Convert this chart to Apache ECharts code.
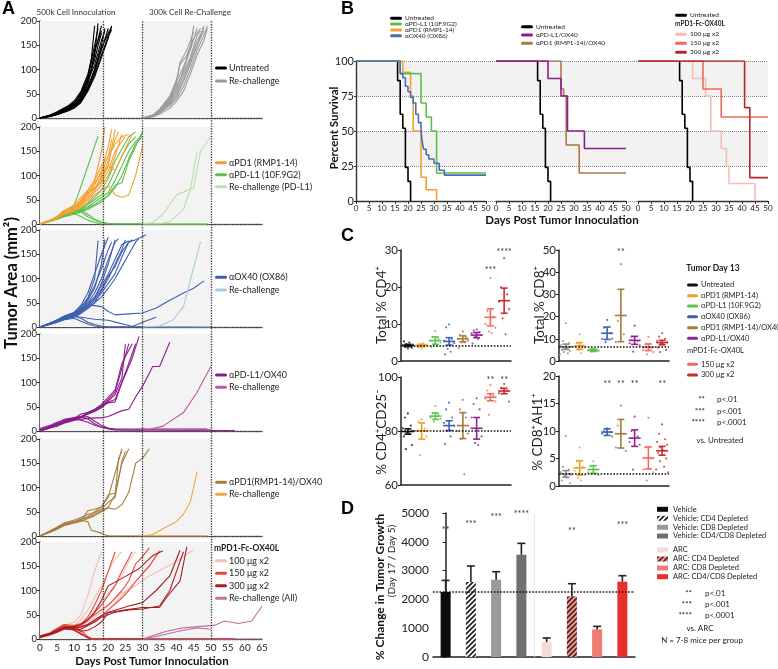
<!DOCTYPE html>
<html><head><meta charset="utf-8">
<script src="https://cdn.jsdelivr.net/npm/echarts/dist/echarts.min.js"></script>
<style>html,body{margin:0;padding:0;background:#fff}#c{width:778px;height:669px}</style>
</head><body><div id="c"></div>
<script>
// ===================== DATA =====================
// Panel A: individual tumor growth curves, [day, tumor area mm²]
const aUntreated = [
 [[0,0],[3,5],[5,10],[8,20],[10,28],[12,45],[14,80],[15,120],[16,190]],
 [[0,0],[3,4],[5,9],[8,18],[10,25],[12,40],[14,70],[16,130],[17,195]],
 [[0,0],[3,6],[5,12],[8,22],[10,32],[12,50],[14,85],[16,140],[18,180]],
 [[0,0],[3,3],[5,8],[8,16],[10,22],[12,35],[14,60],[16,100],[18,150],[19,185]],
 [[0,0],[3,5],[5,11],[8,20],[10,30],[12,48],[14,78],[16,120],[17,150],[18,175]],
 [[0,0],[3,4],[5,9],[8,17],[10,24],[12,38],[14,62],[16,95],[18,140],[20,185]],
 [[0,0],[3,6],[5,13],[8,24],[10,35],[12,55],[14,90],[16,150],[17,185]],
 [[0,0],[3,3],[5,7],[8,14],[10,20],[12,32],[14,55],[16,85],[18,125],[20,165],[21,190]],
 [[0,0],[3,5],[5,10],[8,19],[10,27],[12,42],[14,75],[16,110],[18,160],[19,180]],
 [[0,0],[3,4],[5,9],[8,17],[10,26],[12,40],[14,65],[16,100],[18,145],[20,175],[21,188]],
 [[0,0],[3,5],[5,12],[8,21],[10,30],[12,52],[14,80],[15,100],[16,135],[18,190]],
 [[0,0],[3,4],[5,8],[8,15],[10,23],[12,36],[14,58],[16,90],[18,130],[20,170],[21,182]]
];
const aRechallenge = [
 [[30,0],[33,5],[35,15],[38,35],[40,60],[42,100],[44,140],[46,185]],
 [[30,0],[33,4],[35,12],[38,30],[40,50],[42,80],[44,115],[46,150],[48,190]],
 [[30,0],[33,6],[35,18],[38,45],[40,80],[41,110],[43,130],[45,165],[47,185]],
 [[30,0],[33,3],[35,10],[38,25],[40,40],[42,65],[44,100],[46,140],[48,170],[49,190]],
 [[30,0],[33,5],[35,14],[38,38],[40,65],[42,95],[44,125],[46,170],[47,180]],
 [[30,0],[33,2],[35,8],[38,20],[40,35],[42,55],[44,90],[46,130],[48,160],[49,185]],
 [[30,0],[33,5],[35,16],[38,40],[40,70],[41,115],[43,140],[45,178]],
 [[30,0],[33,3],[35,11],[38,28],[40,45],[42,75],[44,110],[46,150],[48,180]],
 [[30,0],[33,4],[35,13],[38,33],[40,55],[42,88],[44,120],[46,160],[48,185]],
 [[30,0],[33,6],[35,17],[38,42],[40,75],[42,105],[44,145],[45,190]]
];
const aPDL1 = [
 [[0,0],[3,7],[5,13],[7,20],[10,40],[11,57],[17,181]],
 [[0,0],[3,6],[5,12],[7,18],[10,25],[12,30],[14,40],[16,50],[18,60],[20,80],[22,110],[24,140],[26,165],[28,180]],
 [[0,0],[3,6],[5,11],[7,17],[10,22],[12,28],[14,35],[16,45],[18,55],[20,65],[22,90],[24,120],[26,150],[28,170],[30,185]],
 [[0,0],[3,7],[5,12],[7,19],[10,26],[12,32],[14,42],[16,55],[18,70],[20,95],[22,130],[24,155],[26,180],[28,190]],
 [[0,0],[3,6],[5,11],[7,17],[10,23],[12,27],[14,33],[16,40],[18,50],[20,58],[22,75],[24,100],[26,135],[28,165],[30,180]],
 [[0,0],[3,5],[5,10],[7,15],[10,20],[12,25],[14,30],[16,38],[18,45],[20,60],[22,80],[24,85],[26,130],[28,160],[30,190]],
 [[0,0],[3,7],[5,13],[7,20],[10,28],[12,25],[14,15],[16,8],[18,3],[20,0],[49,0]],
 [[0,0],[3,6],[5,12],[7,18],[10,22],[12,15],[14,8],[16,3],[18,0],[49,0]],
 [[0,0],[3,6],[5,11],[7,17],[10,25],[12,28],[14,20],[16,10],[18,4],[20,1],[22,0],[49,0]]
];
const aPD1 = [
 [[0,0],[3,8],[5,15],[7,25],[10,35],[12,45],[14,60],[16,80],[18,110],[20,160],[21,195]],
 [[0,0],[3,7],[5,13],[7,22],[10,30],[12,40],[14,55],[16,70],[18,90],[20,120],[22,195]],
 [[0,0],[3,8],[5,15],[7,28],[10,38],[12,55],[14,70],[16,90],[18,150],[19,200]],
 [[0,0],[3,6],[5,12],[7,20],[10,28],[12,38],[14,50],[16,65],[18,80],[20,100],[22,140],[24,185]],
 [[0,0],[3,7],[5,14],[7,24],[10,32],[12,42],[14,62],[16,75],[18,85],[20,110],[22,150],[24,170],[25,180]],
 [[0,0],[3,8],[5,16],[7,26],[10,30],[12,50],[14,65],[16,72],[18,95],[20,130],[22,175],[23,190]],
 [[0,0],[3,6],[5,12],[7,20],[10,27],[12,35],[14,45],[16,60],[18,70],[20,80],[22,60],[24,55],[26,60],[28,100],[30,160]],
 [[0,0],[3,7],[5,13],[7,22],[10,35],[12,48],[14,68],[16,90],[18,120],[20,140],[22,165],[24,180],[26,185]],
 [[0,0],[3,7],[5,14],[7,23],[10,30],[12,42],[14,55],[16,70],[18,100],[20,120],[22,110],[24,140],[26,170],[27,185]],
 [[0,0],[3,8],[5,15],[7,24],[10,33],[12,46],[14,62],[16,85],[18,105],[20,140],[21,175]]
];
const aRePDL1 = [
 [[30,0],[33,3],[36,20],[40,60],[45,75],[47,150],[50,180]],
 [[30,0],[35,0],[38,5],[42,30],[44,70],[46,150]],
 [[30,0],[49,0]]
];
const aOX40 = [
 [[0,0],[3,8],[5,14],[7,20],[10,28],[12,40],[14,60],[16,100],[17,178]],
 [[0,0],[3,7],[5,12],[7,18],[10,25],[12,35],[14,55],[16,80],[18,130],[19,180]],
 [[0,0],[3,8],[5,15],[7,22],[10,30],[12,45],[14,70],[16,110],[18,150],[20,185]],
 [[0,0],[3,6],[5,11],[7,16],[10,22],[12,30],[14,45],[16,60],[18,90],[20,130],[22,180]],
 [[0,0],[3,7],[5,13],[7,19],[10,27],[12,38],[14,50],[16,70],[18,100],[20,140],[22,175],[23,182]],
 [[0,0],[3,6],[5,10],[7,15],[10,20],[12,28],[14,38],[16,50],[18,75],[20,100],[22,130],[24,160],[25,180]],
 [[0,0],[3,7],[5,12],[7,18],[10,24],[12,32],[14,42],[16,55],[18,70],[20,90],[22,110],[24,145],[26,175],[27,180]],
 [[0,0],[3,6],[5,11],[7,17],[10,23],[12,30],[14,40],[16,50],[18,62],[20,80],[22,100],[24,125],[26,150],[28,175],[29,182]],
 [[0,0],[3,8],[5,14],[7,21],[10,29],[12,42],[14,58],[16,85],[18,120],[20,160],[21,175]],
 [[0,0],[3,7],[5,13],[7,20],[10,26],[12,34],[14,48],[16,62],[18,85],[20,110],[22,140],[24,170],[26,178]],
 [[0,0],[3,6],[5,12],[7,18],[10,25],[12,33],[14,44],[16,58],[18,78],[20,105],[22,125],[24,155],[26,175],[28,180],[31,190]],
 [[0,0],[3,7],[5,14],[7,22],[10,30],[12,38],[14,45],[16,44],[18,42],[20,32],[22,25],[26,27],[30,29],[34,39],[38,55],[42,70],[45,80],[48,95]],
 [[0,0],[3,6],[5,11],[7,17],[10,22],[12,20],[14,18],[16,16],[18,15],[20,14],[22,10],[25,5],[27,1],[30,10],[34,20]],
 [[0,0],[3,6],[5,12],[7,18],[10,22],[12,18],[14,10],[16,5],[18,2],[20,0],[45,0]],
 [[0,0],[3,5],[5,10],[7,15],[10,18],[12,12],[14,6],[16,2],[18,0],[50,0]]
];
const aReOX40 = [
 [[30,0],[33,1],[35,2],[39,15],[42,42],[47,176]],
 [[30,0],[50,0]]
];
const aPDL1OX40 = [
 [[0,0],[3,10],[5,15],[7,20],[10,25],[12,30],[14,35],[16,42],[18,50],[20,62],[22,75],[24,110],[25,180]],
 [[0,0],[3,8],[5,13],[7,18],[10,24],[12,28],[14,36],[16,42],[18,52],[20,65],[22,80],[24,130],[26,180]],
 [[0,0],[3,9],[5,14],[7,20],[10,26],[12,35],[14,38],[16,45],[18,55],[20,70],[22,85],[24,140],[27,180]],
 [[0,0],[3,7],[5,12],[7,17],[10,22],[12,28],[14,35],[16,40],[18,48],[20,60],[22,65],[25,120],[28,180]],
 [[0,0],[3,8],[5,14],[7,19],[10,25],[12,30],[14,38],[16,44],[18,52],[20,58],[22,60],[24,100],[27,150],[29,195]],
 [[0,0],[3,6],[5,10],[7,16],[10,22],[12,24],[14,26],[16,27],[18,27],[20,30],[24,42],[26,45],[28,70],[30,92],[33,133],[35,133],[38,183]],
 [[0,5],[3,12],[5,18],[7,22],[10,28],[12,30],[14,25],[16,15],[18,8],[20,5],[22,3],[25,2],[50,2]],
 [[0,3],[3,10],[5,16],[7,24],[10,27],[12,22],[14,18],[16,12],[18,8],[20,4],[22,2],[57,1]],
 [[0,2],[3,8],[5,13],[7,18],[10,24],[12,28],[14,30],[16,20],[18,12],[20,6],[22,4],[49,4]]
];
const aRePDL1OX40 = [
 [[30,0],[36,10],[42,38],[46,80],[50,133]],
 [[30,0],[40,3],[50,2]]
];
const aPD1OX40 = [
 [[0,0],[3,10],[5,18],[7,25],[10,30],[12,35],[14,40],[16,50],[18,60],[20,80],[22,130],[24,180]],
 [[0,0],[3,9],[5,16],[7,22],[10,28],[12,32],[14,52],[16,55],[18,60],[20,85],[22,88],[24,150],[26,180]],
 [[0,0],[3,11],[5,18],[7,27],[10,33],[12,38],[14,45],[16,48],[18,55],[20,70],[22,80],[24,155],[25,175]],
 [[0,0],[3,8],[5,14],[7,21],[10,27],[12,30],[14,36],[16,42],[18,50],[20,58],[22,55],[24,65],[26,90],[28,150],[30,160],[32,180]],
 [[0,0],[3,9],[5,15],[7,23],[10,29],[12,34],[14,38],[16,45],[18,52],[20,60],[22,85],[23,160],[24,175]],
 [[0,0],[3,10],[5,17],[7,24],[10,30],[12,32],[14,30],[15,12],[17,8],[20,0],[49,0]]
];
const aRePD1OX40 = [
 [[30,0],[33,3],[36,15],[40,30],[42,45],[44,70],[46,132]],
 [[30,0],[49,0]]
];
const a100 = [
 [[0,3],[3,12],[5,20],[7,28],[10,35],[12,50],[14,90],[16,140],[18,180]],
 [[0,2],[3,10],[5,18],[7,25],[10,28],[12,40],[14,60],[16,85],[18,110],[20,140],[22,165],[24,180]],
 [[0,4],[3,11],[5,17],[7,24],[10,26],[12,32],[14,45],[16,60],[18,75],[20,95],[22,110],[24,130],[26,160],[28,180]],
 [[0,2],[3,8],[5,14],[7,20],[10,22],[12,28],[14,35],[16,45],[18,55],[20,70],[24,95],[28,110],[32,130],[36,145],[40,160],[45,184]],
 [[0,3],[3,9],[5,16],[7,22],[10,25],[12,24],[14,28],[16,35],[18,48],[20,60],[22,75],[24,90],[28,120],[32,150],[35,180]],
 [[0,3],[3,10],[5,15],[7,22],[10,22],[12,15],[14,5],[15,0],[57,0]]
];
const a150 = [
 [[0,5],[3,12],[5,20],[7,28],[10,25],[12,30],[14,45],[16,70],[18,100],[20,140],[22,180]],
 [[0,4],[3,11],[5,18],[7,26],[10,24],[12,28],[14,38],[16,55],[18,70],[20,90],[22,110],[24,140],[27,180]],
 [[0,6],[3,13],[5,22],[7,30],[10,28],[12,32],[14,40],[16,50],[18,60],[20,70],[22,85],[24,100],[26,120],[28,155],[30,170],[32,188]],
 [[0,3],[3,10],[5,17],[7,24],[10,22],[12,25],[14,30],[16,38],[18,48],[20,60],[22,72],[24,85],[26,100],[28,118],[30,135],[32,150],[34,172],[35,182]],
 [[0,5],[3,12],[5,20],[7,27],[10,25],[12,18],[14,5],[15,1],[57,1]],
 [[0,4],[3,10],[5,16],[7,22],[10,20],[12,12],[14,2],[15,0],[57,0]]
];
const a300 = [
 [[0,5],[3,12],[5,18],[7,24],[10,22],[12,16],[14,18],[16,25],[18,35],[20,54],[25,60],[30,65],[35,65],[37,85],[41,120],[43,190]],
 [[0,4],[3,10],[5,16],[7,22],[10,24],[12,25],[14,30],[17,44],[20,55],[26,68],[30,75],[34,100],[38,130],[41,183]],
 [[0,6],[3,12],[5,18],[7,25],[10,26],[12,30],[14,40],[16,55],[18,80],[20,110],[24,125],[29,145],[33,172],[36,182]],
 [[0,3],[3,9],[5,14],[7,20],[10,20],[12,20],[14,28],[16,35],[18,45],[22,55],[26,60],[30,62],[35,68],[38,100],[40,140],[42,180]],
 [[0,4],[3,10],[5,16],[7,22],[10,18],[12,10],[14,3],[15,0],[57,0]]
];
const aReAll = [
 [[30,0],[34,9],[37,16],[42,23],[47,26],[51,28],[54,37],[58,32],[62,37],[65,68]],
 [[30,0],[34,5],[38,12],[42,18],[46,23],[50,20]],
 [[30,0],[65,0]]
];
const aTicks = {xMax:65, xStep:5, yMax:200, yStep:50};
const aShade = [[0,18.5],[30,50]];
const aRefDays = [18.5, 30, 50];

// Panel B: Kaplan-Meier survival, [day, % survival]
const kmUntreated = [[0,100],[16,86],[17,62],[18,52],[19,24],[20,14],[21,0]];
const kmPDL1 = [[0,100],[17,91],[25,70],[27,60],[29,50],[31,20],[50,20]];
const kmPD1 = [[0,100],[18,92],[21,75],[22,50],[25,17],[27,8],[31,0]];
const kmOX40 = [[0,100],[17,91],[18,88],[19,82],[20,78],[21,74],[22,70],[23,62],[24,56],[25,50],[25.5,42],[26,37],[27,33],[28,30],[30,27],[32,22],[34,18.5],[50,18.5]];
const kmPDL1OX40 = [[0,100],[20,87.5],[25,75],[27.5,50],[34,37.5],[50,37.5]];
const kmPD1OX40 = [[0,100],[25,80],[26,75],[27,40],[32,20],[50,20]];
const km100 = [[0,100],[21,87.5],[26,75],[28,50],[32,37.5],[34,25],[35,12.5],[45,0]];
const km150 = [[0,100],[25,80],[32,60],[50,60]];
const km300 = [[0,100],[41,66.7],[43,16.7],[50,16.7]];

// Panel C: tumor day 13 flow data
const cCats = ['Untreated','αPD1 (RMP1-14)','αPD-L1 (10F.9G2)','αOX40 (OX86)','αPD1 (RMP1-14)/OX40','αPD-L1/OX40','150 μg x2','300 μg x2'];
const cd4Dots = [[3.4,3.8,4,4.2,4.4,4.6,5,5.3,3.6,4.1],[3.4,3.7,4,4.2,4.4,4.6,4.8,3.9],[8.1,6.5,6,5.5,5,4.5,4,3.8],[9.9,9.1,6,5.5,4.8,3.3,2.5,1.8],[8,7,6.5,6,5.5,5,5,3.5],[8.5,8.2,7.8,7.5,7,6.5,6,4.7],[22.4,13.5,12,10,9,8,7.5],[27.8,20,18,16,14,11.5,7.2]];
const cd4Mean = [4.2,4.2,5.5,5.3,6.0,7.0,11.8,16.3];
const cd4Sem = [0.3,0.3,1.0,1.0,0.8,0.7,2.3,3.4];
const cd4Stars = ['','','','','','','***','****'];
const cd4StarAt = [0,0,0,0,0,0,24.5,29.4];
const cd8Dots = [[17,9,8,7,6.5,6,5.5,5,4.5,4,3.5,3],[12,8,7,6.5,6,5,3.5],[5.5,5.2,5,4.8,4.5,4.2],[18.5,15,12.5,10,10,8.5],[43.6,18,12,8.5],[15.9,11,9,8,7,4.2],[10.9,7.5,6,5,4,3],[12.5,11,10,9,8.5,8,7.5,6,5,4]];
const cd8Mean = [6.4,6.8,4.8,12.5,20.5,9.3,6.2,8.3];
const cd8Sem = [1.2,1.5,0.5,2.8,11.8,1.8,1.5,1.0];
const cd8Stars = ['','','','','**','','',''];
const cd8StarAt = [0,0,0,0,49,0,0,0];
const cd25Dots = [[86.5,85,82,81,80,79.5,79,78,74.8,73.3],[84.3,83.5,81,80,78,71.1],[89.3,86.5,86,85,84.5,83.5],[90.5,88,85,83,82,80,78,75.2],[91.5,88,85,80,79,77,64],[92.1,90,88,85,78,75.5,74.8],[97,95,93,92,91,86],[97.4,96,95,94,90.9]];
const cd25Mean = [79.8,80,85.5,82,82,81,92.5,94.8];
const cd25Sem = [1,3,1.2,1.8,4.8,4,1.3,1];
const cd25Stars = ['','','','','','','**','**'];
const cd25StarAt = [0,0,0,0,0,0,99,99];
const ah1Dots = [[9.1,3.5,3,2.5,2,1.8,1.5,1,0.5],[7,4.5,3.5,2.8,2,1.5,1],[4.5,3.5,3,2.5,2],[10.5,10,9.8,9.5,9],[14.6,11,9.5,7,6.4],[12.6,10,9,8,7.5,3],[12.4,7,5,3,2.5,1],[11.2,9.5,8.5,8,7.5,7,6.5,6,5,4.5,3.5,3,2.5]];
const ah1Mean = [2.2,3.3,3,9.8,9.5,8.7,5.1,6.4];
const ah1Sem = [0.6,1.3,0.7,0.6,2.6,1.5,2,0.8];
const ah1Stars = ['','','','**','**','**','','**'];
const ah1StarAt = [0,0,0,18.6,18.6,18.6,0,18.6];
const cRefs = [4.2, 6.5, 80, 2.3];

// Panel D: % change in tumor growth (Day 17 / Day 5)
const dCats = ['Vehicle','Vehicle: CD4 Depleted','Vehicle: CD8 Depleted','Vehicle: CD4/CD8 Depleted','ARC','ARC: CD4 Depleted','ARC: CD8 Depleted','ARC: CD4/CD8 Depleted'];
const dValues = [2257,2604,2684,3552,521,2105,958,2615];
const dErr = [403,556,278,394,139,440,105,208];
const dStars = ['**','***','***','****','','**','','***'];
const dStarAt = [4420,4628,4860,4976,0,4385,0,4594];
const dRef = 2257;

// ===================== STYLE =====================
const FONT = 'Lato, "Open Sans", "DejaVu Sans", sans-serif';
const C = {
  untreated:'#000000', re:'#9b9b9b', pd1:'#f5a02e', pdl1:'#5cbf4a', rePdl1:'#b9dfa6',
  ox40:'#3f5fb0', reOx40:'#a9c9de', pdl1ox:'#8c1c8c', rePdl1ox:'#c4569f',
  pd1ox:'#a97b40', rePd1ox:'#f3a54a', d100:'#f5bdb4', d150:'#e8493f', d300:'#a61e22', reAll:'#c3709f',
  kmBlue:'#4a6db5', km150:'#ee6a5a', km300:'#b02a2a'
};
const palCD4 = ['#111111','#f39c2a','#62c14e','#3d5fb0','#a87a3f','#8e2590','#f06a5f','#cc2a2a'];
const palCD8 = ['#8a8a8a'].concat(palCD4.slice(1));
const plain = v => String(v);

function stripes(bg, fg){
  const cv=document.createElement('canvas'); cv.width=5; cv.height=5;
  const g=cv.getContext('2d'); g.fillStyle=bg; g.fillRect(0,0,5,5);
  g.strokeStyle=fg; g.lineWidth=1.7; g.beginPath();
  g.moveTo(-1,6); g.lineTo(6,-1); g.moveTo(-1,1); g.lineTo(1,-1); g.moveTo(4,6); g.lineTo(6,4); g.stroke();
  return {image:cv, repeat:'repeat'};
}
const dColors = ['#0b0b0b', stripes('#ffffff','#222222'), '#9a9a9a', '#707070', '#f8dbd4', stripes('#e7a39b','#5c1d1d'), '#f07d74', '#e8302a'];

// ===================== BUILD =====================
const chart = echarts.init(document.getElementById('c'));
const grids=[], xAxes=[], yAxes=[], series=[], gfx=[];
const lab = {color:'#222', fontFamily:FONT, formatter:plain};

// --- Panel A grids (0..5)
const aTops=[21,127,230,334,439,542];
aTops.forEach((t,i)=>{
  grids.push({left:40, top:t, width:222, height:97, outerBoundsMode:'none', containLabel:false});
  xAxes.push({type:'value', gridIndex:i, min:0, max:aTicks.xMax, interval:aTicks.xStep,
    axisLine:{onZero:false, lineStyle:{color:'#444', type:'dotted', width:1.3}},
    axisTick:{show:false}, axisLabel:{show:i===5, fontSize:10, margin:4, ...lab}, splitLine:{show:false}});
  yAxes.push({type:'value', gridIndex:i, min:0, max:aTicks.yMax, interval:aTicks.yStep,
    axisLine:{show:true, lineStyle:{color:'#333', width:1.5}}, axisTick:{show:true, length:3, lineStyle:{color:'#333'}},
    axisLabel:{fontSize:9.5, margin:3, ...lab}, splitLine:{show:false}});
});
// grid 6: background for A reference lines
grids.push({left:40, top:20, width:222, height:619, outerBoundsMode:'none', containLabel:false});
xAxes.push({type:'value', gridIndex:6, min:0, max:aTicks.xMax, show:false});
yAxes.push({type:'value', gridIndex:6, min:0, max:1, show:false});
series.push({type:'line', xAxisIndex:6, yAxisIndex:6, data:[], z:3, silent:true,
  markLine:{silent:true, symbol:'none', animation:false, label:{show:false},
    lineStyle:{type:'dotted', color:'#333', width:1.3}, data:aRefDays.map(d=>({xAxis:d}))}});

const panelsA = [
  [[aUntreated,C.untreated],[aRechallenge,C.re]],
  [[aPDL1,C.pdl1],[aPD1,C.pd1],[aRePDL1,C.rePdl1]],
  [[aOX40,C.ox40],[aReOX40,C.reOx40]],
  [[aPDL1OX40,C.pdl1ox],[aRePDL1OX40,C.rePdl1ox]],
  [[aPD1OX40,C.pd1ox],[aRePD1OX40,C.rePd1ox]],
  [[a100,C.d100],[a150,C.d150],[a300,C.d300],[aReAll,C.reAll]]
];
panelsA.forEach((groups,gi)=>{
  series.push({type:'line', xAxisIndex:gi, yAxisIndex:gi, data:[], z:0, silent:true,
    markArea:{silent:true, itemStyle:{color:'#f3f3f3'},
      data:aShade.map(r=>[{xAxis:r[0], yAxis:0},{xAxis:r[1], yAxis:aTicks.yMax}])}});
  groups.forEach(([curves,color])=>curves.forEach(cv=>series.push({
    type:'line', xAxisIndex:gi, yAxisIndex:gi, data:cv, showSymbol:false, symbol:'none', z:2, silent:true,
    lineStyle:{color, width:1.1}})));
});

// --- Panel B: grid 7 background, 8-10 plots
grids.push({left:356, top:61, width:412, height:140, outerBoundsMode:'none', containLabel:false});
xAxes.push({type:'value', gridIndex:7, min:0, max:1, show:false});
yAxes.push({type:'value', gridIndex:7, min:0, max:100, interval:25, axisLine:{show:false}, axisTick:{show:false}, axisLabel:{show:false},
  splitLine:{show:true, lineStyle:{type:'dotted', color:'#888', width:1}},
  splitArea:{show:true, areaStyle:{color:['rgba(255,255,255,0)','#f2f2f2']}}});
const bLefts=[356,496,638];
const kmPlots=[
  [[kmUntreated,C.untreated],[kmPD1,C.pd1],[kmPDL1,C.pdl1],[kmOX40,C.kmBlue]],
  [[kmUntreated,C.untreated],[kmPD1OX40,C.pd1ox],[kmPDL1OX40,C.pdl1ox]],
  [[kmUntreated,C.untreated],[km100,C.d100],[km150,C.km150],[km300,C.km300]]
];
bLefts.forEach((l,k)=>{
  const gi=8+k;
  grids.push({left:l, top:61, width:130, height:140, outerBoundsMode:'none', containLabel:false});
  xAxes.push({type:'value', gridIndex:gi, min:0, max:50, interval:5,
    axisLine:{lineStyle:{color:'#333', width:1.4}}, axisTick:{length:3, lineStyle:{color:'#333'}},
    axisLabel:{fontSize:8, margin:3, ...lab}, splitLine:{show:false}});
  yAxes.push({type:'value', gridIndex:gi, min:0, max:100, interval:25,
    axisLine:{show:k===0, lineStyle:{color:'#333', width:1.4}}, axisTick:{show:k===0, length:2, lineStyle:{color:'#333'}},
    axisLabel:{show:k===0, fontSize:11, margin:2, ...lab}, splitLine:{show:false}});
  kmPlots[k].forEach(([d,color])=>series.push({type:'line', step:'end', xAxisIndex:gi, yAxisIndex:gi, data:d,
    showSymbol:false, symbol:'none', z:2, silent:true, lineStyle:{color, width:1.6}}));
});

// --- Panel C: grids 11-14
const cPlots=[
  {left:401, top:250, h:111, min:0, max:30, step:10, dots:cd4Dots, mean:cd4Mean, sem:cd4Sem, stars:cd4Stars, starAt:cd4StarAt, pal:palCD4},
  {left:559, top:250, h:111, min:0, max:50, step:10, dots:cd8Dots, mean:cd8Mean, sem:cd8Sem, stars:cd8Stars, starAt:cd8StarAt, pal:palCD8},
  {left:401, top:377, h:108, min:60, max:100, step:20, dots:cd25Dots, mean:cd25Mean, sem:cd25Sem, stars:cd25Stars, starAt:cd25StarAt, pal:palCD4},
  {left:559, top:376, h:110, min:0, max:20, step:5, dots:ah1Dots, mean:ah1Mean, sem:ah1Sem, stars:ah1Stars, starAt:ah1StarAt, pal:palCD8}
];
const jit=[0,-3,3,-5,5,-1.5,1.5,-4,4,-2,2,-6,6];
cPlots.forEach((p,k)=>{
  const gi=11+k;
  grids.push({left:p.left, top:p.top, width:110, height:p.h, outerBoundsMode:'none', containLabel:false});
  xAxes.push({type:'category', gridIndex:gi, data:cCats, axisLine:{lineStyle:{color:'#222', width:1.5}},
    axisTick:{alignWithLabel:true, length:3, lineStyle:{color:'#222'}}, axisLabel:{show:false}, splitLine:{show:false}});
  yAxes.push({type:'value', gridIndex:gi, min:p.min, max:p.max, interval:p.step,
    axisLine:{show:true, lineStyle:{color:'#222', width:1.5}}, axisTick:{show:true, length:3, lineStyle:{color:'#222'}},
    axisLabel:{fontSize:11.5, margin:3, ...lab}, splitLine:{show:false}});
  series.push({type:'line', xAxisIndex:gi, yAxisIndex:gi, data:[], z:1, silent:true,
    markLine:{silent:true, symbol:'none', animation:false, label:{show:false}, lineStyle:{type:'dotted', color:'#111', width:1.6}, data:[{yAxis:cRefs[k]}]}});
  const dd=[]; p.dots.forEach((arr,c)=>arr.forEach((v,j)=>dd.push([c,v,j])));
  series.push({type:'custom', xAxisIndex:gi, yAxisIndex:gi, data:dd, z:3, silent:true,
    renderItem(params,api){
      const c=api.value(0), pt=api.coord([c,api.value(1)]), j=api.value(2);
      return {type:'circle', shape:{cx:pt[0]+jit[j%jit.length], cy:pt[1], r:1.1}, style:{fill:p.pal[c], opacity:0.8}};
    }});
  series.push({type:'custom', xAxisIndex:gi, yAxisIndex:gi, data:p.mean.map((m,c)=>[c,m,p.sem[c]]), z:4, silent:true,
    renderItem(params,api){
      const c=api.value(0), m=api.value(1), s=api.value(2);
      const pm=api.coord([c,m]), pl=api.coord([c,m-s]), ph=api.coord([c,m+s]);
      const st={stroke:p.pal[c], lineWidth:1.6};
      return {type:'group', children:[
        {type:'line', shape:{x1:pm[0]-6,y1:pm[1],x2:pm[0]+6,y2:pm[1]}, style:st},
        {type:'line', shape:{x1:pl[0],y1:pl[1],x2:ph[0],y2:ph[1]}, style:st},
        {type:'line', shape:{x1:pl[0]-3.5,y1:pl[1],x2:pl[0]+3.5,y2:pl[1]}, style:st},
        {type:'line', shape:{x1:ph[0]-3.5,y1:ph[1],x2:ph[0]+3.5,y2:ph[1]}, style:st}
      ]};
    }});
  const si=[]; p.stars.forEach((s,c)=>{ if(s) si.push({c, v:p.starAt[c], t:s}); });
  series.push({type:'custom', xAxisIndex:gi, yAxisIndex:gi, data:si.map(o=>[o.c,o.v]), z:5, silent:true, clip:false,
    renderItem(params,api){
      const pt=api.coord([api.value(0),api.value(1)]);
      return {type:'text', x:pt[0], y:pt[1], style:{text:si[params.dataIndex].t, fontSize:9, fontFamily:FONT, fill:'#333', align:'center', verticalAlign:'middle'}};
    }});
});

// --- Panel D: grid 15
grids.push({left:433, top:513, width:202, height:144, outerBoundsMode:'none', containLabel:false});
xAxes.push({type:'category', gridIndex:15, data:dCats, axisLine:{lineStyle:{color:'#222', width:1.5}},
  axisTick:{alignWithLabel:true, length:3, lineStyle:{color:'#222'}}, axisLabel:{show:false}, splitLine:{show:false}});
xAxes.push({type:'value', gridIndex:15, min:-0.5, max:7.5, show:false});
yAxes.push({type:'value', gridIndex:15, min:0, max:5000, interval:1000,
  axisLine:{show:true, lineStyle:{color:'#222', width:1.5}}, axisTick:{show:true, length:3, lineStyle:{color:'#222'}},
  axisLabel:{fontSize:12, margin:4, ...lab}, splitLine:{show:false}});
series.push({type:'line', xAxisIndex:16, yAxisIndex:15, data:[], z:0, silent:true,
  markLine:{silent:true, symbol:'none', animation:false, label:{show:false}, lineStyle:{type:'dotted', color:'#d0d0d0', width:1}, data:[{xAxis:3.5}]}});
series.push({type:'bar', xAxisIndex:15, yAxisIndex:15, barWidth:10, z:2, silent:true,
  data:dValues.map((v,i)=>({value:v, itemStyle:{color:dColors[i]}})),
  markLine:{silent:true, symbol:'none', animation:false, label:{show:false}, z:5, lineStyle:{type:'dotted', color:'#111', width:1.6}, data:[{yAxis:dRef}]}});
series.push({type:'custom', xAxisIndex:15, yAxisIndex:15, data:dValues.map((v,i)=>[i,v,dErr[i]]), z:3, silent:true,
  renderItem(params,api){
    const i=api.value(0), v=api.value(1), e=api.value(2);
    const a=api.coord([i,v]), b=api.coord([i,v+e]);
    const st={stroke:'#222', lineWidth:1.6};
    return {type:'group', children:[
      {type:'line', shape:{x1:a[0],y1:a[1],x2:b[0],y2:b[1]}, style:st},
      {type:'line', shape:{x1:b[0]-4,y1:b[1],x2:b[0]+4,y2:b[1]}, style:st}]};
  }});
const dsi=[]; dStars.forEach((s,i)=>{ if(s) dsi.push({i, v:dStarAt[i], t:s}); });
series.push({type:'custom', xAxisIndex:15, yAxisIndex:15, data:dsi.map(o=>[o.i,o.v]), z:5, silent:true, clip:false,
  renderItem(params,api){
    const pt=api.coord([api.value(0),api.value(1)]);
    return {type:'text', x:pt[0], y:pt[1], style:{text:dsi[params.dataIndex].t, fontSize:9, fontFamily:FONT, fill:'#333', align:'center', verticalAlign:'middle'}};
  }});

// ===================== TEXT / LEGENDS (graphic) =====================
function T(x,y,s,o={}){
  return {type:'text', x, y, rotation:o.rot||0, silent:true, z:20,
    style:{text:s, fontSize:o.size||9, fontFamily:o.font||FONT, fontWeight:o.bold?'bold':'normal',
      fill:o.color||'#222', align:o.align||'left', verticalAlign:'middle'}};
}
function S(x,y,w,h,fill){ return {type:'rect', silent:true, z:20, shape:{x, y:y-h/2, width:w, height:h, r:h/2}, style:{fill}}; }
function R(x,y,w,h,fill){ return {type:'rect', silent:true, z:20, shape:{x, y:y-h/2, width:w, height:h}, style:{fill}}; }
const LET='"Liberation Sans", Arial, sans-serif';
gfx.push(T(2,9,'A',{size:18,bold:true,font:LET,color:'#000'}));
gfx.push(T(341,9,'B',{size:18,bold:true,font:LET,color:'#000'}));
gfx.push(T(341,236,'C',{size:18,bold:true,font:LET,color:'#000'}));
gfx.push(T(341,509,'D',{size:18,bold:true,font:LET,color:'#000'}));

// Panel A texts
gfx.push(T(76,12,'500k Cell Innoculation',{size:8,align:'center',color:'#333'}));
gfx.push(T(190,12,'300k Cell Re-Challenge',{size:8,align:'center',color:'#333'}));
gfx.push(T(12,283,'Tumor Area (mm²)',{size:16.5,bold:true,rot:Math.PI/2,align:'center',color:'#111'}));
gfx.push(T(152,661,'Days Post Tumor Innoculation',{size:11.5,bold:true,align:'center',color:'#111'}));
const legA=[
  [[68,'Untreated',C.untreated],[81,'Re-challenge',C.re]],
  [[162.7,'αPD1 (RMP1-14)',C.pd1],[174.7,'αPD-L1 (10F.9G2)',C.pdl1],[186.7,'Re-challenge (PD-L1)',C.rePdl1]],
  [[277.3,'αOX40 (OX86)',C.ox40],[290,'Re-challenge',C.reOx40]],
  [[375,'αPD-L1/OX40',C.pdl1ox],[387.3,'Re-challenge',C.rePdl1ox]],
  [[482.3,'αPD1(RMP1-14)/OX40',C.pd1ox],[494.3,'Re-challenge',C.rePd1ox]],
  [[560.7,'100 μg x2',C.d100],[573.3,'150 μg x2',C.d150],[585.7,'300 μg x2',C.d300],[598.3,'Re-challenge (All)',C.reAll]]
];
legA.forEach(rows=>rows.forEach(([y,s,c])=>{ gfx.push(S(215,y,12,3,c)); gfx.push(T(229,y,s,{size:9})); }));
gfx.push(T(214,548.7,'mPD1-Fc-OX40L',{size:8.5,bold:true}));

// Panel B texts
gfx.push(T(334,128,'Percent Survival',{size:11.5,bold:true,rot:Math.PI/2,align:'center',color:'#111'}));
gfx.push(T(562,220,'Days Post Tumor Innoculation',{size:11.5,bold:true,align:'center',color:'#111'}));
const legB=[
  {x:390, rows:[[18.3,'Untreated',C.untreated],[24,'αPD-L1 (10F.9G2)',C.pdl1],[30,'αPD1 (RMP1-14)',C.pd1],[35.7,'αOX40 (OX86)',C.kmBlue]]},
  {x:521, rows:[[26.7,'Untreated',C.untreated],[35,'αPD-L1/OX40',C.pdl1ox],[43.3,'αPD1 (RMP1-14)/OX40',C.pd1ox]]},
  {x:675, rows:[[15.3,'Untreated',C.untreated],[34.3,'100 μg x2',C.d100],[43.3,'150 μg x2',C.km150],[52.3,'300 μg x2',C.km300]]}
];
legB.forEach(L=>L.rows.forEach(([y,s,c])=>{ gfx.push(S(L.x,y,12,3,c)); gfx.push(T(L.x+15,y,s,{size:6.5})); }));
gfx.push(T(675,24,'mPD1-Fc-OX40L',{size:6.5,bold:true}));

// Panel C texts
gfx.push(T(382,305,'Total % CD4⁺',{size:13.5,rot:Math.PI/2,align:'center'}));
gfx.push(T(540,305,'Total % CD8⁺',{size:13.5,rot:Math.PI/2,align:'center'}));
gfx.push(T(382,432,'% CD4⁺CD25⁻',{size:13.5,rot:Math.PI/2,align:'center'}));
gfx.push(T(538,432,'% CD8⁺AH1⁺',{size:13.5,rot:Math.PI/2,align:'center'}));
gfx.push(T(713,268,'Tumor Day 13',{size:8.5,bold:true,align:'center'}));
const legC=[[285,0],[295.7,1],[306,2],[316.7,3],[327.7,4],[338.3,5],[364.3,6],[375,7]];
legC.forEach(([y,i])=>{ gfx.push(S(687,y,11,3,palCD4[i])); gfx.push(T(701,y,cCats[i],{size:7.5})); });
gfx.push(T(687,351,'mPD1-Fc-OX40L',{size:7.5}));
const statC=[[399,'**','p<.01'],[411,'***','p<.001'],[422,'****','p<.0001']];
statC.forEach(([y,a,b])=>{ gfx.push(T(705,y,a,{size:8,align:'right'})); gfx.push(T(717,y,b,{size:8})); });
gfx.push(T(720,440,'vs. Untreated',{size:8,align:'center'}));

// Panel D texts
gfx.push(T(380,587,'% Change in Tumor Growth',{size:12,bold:true,rot:Math.PI/2,align:'center',color:'#111'}));
gfx.push(T(392,561,'(Day 17 / Day 5)',{size:10,rot:Math.PI/2,align:'center'}));
const legD=[509.3,518.3,527.3,536,550,559,568,576.7];
legD.forEach((y,i)=>{ gfx.push(R(657,y,11,5,dColors[i])); gfx.push(T(673,y,dCats[i],{size:7.5})); });
const statD=[[593.3,'**','p<.01'],[604.3,'***','p<.001'],[615,'****','p<.0001']];
statD.forEach(([y,a,b])=>{ gfx.push(T(692,y,a,{size:8,align:'right'})); gfx.push(T(705,y,b,{size:8})); });
gfx.push(T(700,628.7,'vs. ARC',{size:8,align:'center'}));
gfx.push(T(702,640.7,'N = 7-8 mice per group',{size:8,align:'center'}));

chart.setOption({animation:false, backgroundColor:'#ffffff', grid:grids, xAxis:xAxes, yAxis:yAxes, series, graphic:{elements:gfx}});
</script></body></html>
